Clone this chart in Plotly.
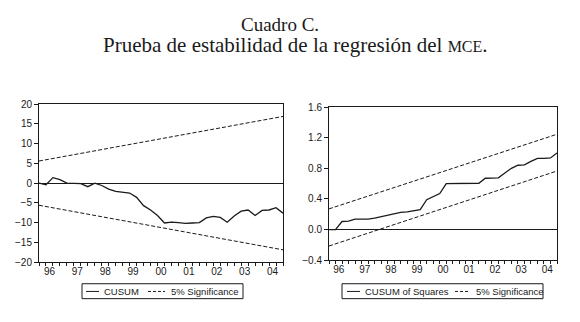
import plotly.graph_objects as go

W, H = 580, 322

# ---------------- data ----------------
quarters = [f"{y}Q{q}" for y in range(1996, 2005) for q in range(1, 5)]  # 36 quarterly obs
year_labels = ["96", "97", "98", "99", "00", "01", "02", "03", "04"]

cusum = [0.0, -0.4, 1.4, 0.9, 0.0, -0.1, -0.1, -0.9, 0.0, -0.6,
         -1.5, -2.1, -2.3, -2.5, -3.6, -5.7, -6.8, -8.2, -10.1, -9.9,
         -10.0, -10.2, -10.1, -10.0, -8.8, -8.4, -8.7, -9.9, -8.3, -7.1,
         -6.8, -8.2, -6.9, -6.8, -6.2, -7.6]
cusum_upper = [5.6, 16.9]
cusum_lower = [-5.6, -16.9]

cusumsq = [0.0, 0.0, 0.105, 0.11, 0.135, 0.135, 0.135, 0.15, 0.17, 0.185,
           0.21, 0.225, 0.23, 0.245, 0.26, 0.39, 0.43, 0.47, 0.60, 0.60,
           0.60, 0.60, 0.60, 0.605, 0.67, 0.67, 0.675, 0.74, 0.80, 0.84,
           0.845, 0.89, 0.93, 0.93, 0.935, 1.0]
sq_upper = [0.27, 1.245]
sq_lower = [-0.215, 0.765]

x = list(range(len(quarters)))
ends = [x[0], x[-1]]
label_pos = [1.5 + 4 * k for k in range(len(year_labels))]

INK = "#1a1a1a"
SANS = "Liberation Sans, Arial, sans-serif"
SERIF = "Liberation Serif, Times New Roman, serif"

fig = go.Figure()
# left panel
fig.add_trace(go.Scatter(x=x, y=cusum, mode="lines", name="CUSUM",
                         line=dict(color=INK, width=1.3), xaxis="x", yaxis="y"))
fig.add_trace(go.Scatter(x=ends, y=cusum_upper, mode="lines", name="5% Significance",
                         line=dict(color=INK, width=1, dash="4px,2px"), xaxis="x", yaxis="y"))
fig.add_trace(go.Scatter(x=ends, y=cusum_lower, mode="lines", name="5% Significance",
                         line=dict(color=INK, width=1, dash="4px,2px"), xaxis="x", yaxis="y"))
# right panel
fig.add_trace(go.Scatter(x=x, y=cusumsq, mode="lines", name="CUSUM of Squares",
                         line=dict(color=INK, width=1.3), xaxis="x2", yaxis="y2"))
fig.add_trace(go.Scatter(x=ends, y=sq_upper, mode="lines", name="5% Significance",
                         line=dict(color=INK, width=1, dash="4px,2px"), xaxis="x2", yaxis="y2"))
fig.add_trace(go.Scatter(x=ends, y=sq_lower, mode="lines", name="5% Significance",
                         line=dict(color=INK, width=1, dash="4px,2px"), xaxis="x2", yaxis="y2"))


def px_x(p):
    return p / W


def px_y(p):
    return (H - p) / H


common_x = dict(range=[x[0], x[-1]], tickmode="array", tickvals=label_pos, ticktext=year_labels,
                ticks="", showline=True, mirror=True, linecolor=INK, linewidth=1,
                showgrid=False, zeroline=False,
                tickfont=dict(family=SANS, size=10, color=INK),
                minor=dict(tickmode="array", tickvals=x, ticks="outside", ticklen=3,
                           tickcolor=INK, tickwidth=1, showgrid=False))
common_y = dict(ticks="outside", ticklen=4, tickcolor=INK, showline=True, mirror=True,
                linecolor=INK, linewidth=1, showgrid=False, zeroline=True,
                zerolinecolor=INK, zerolinewidth=1,
                tickfont=dict(family=SANS, size=10, color=INK))

fig.update_layout(
    width=W, height=H, margin=dict(l=0, r=0, t=0, b=0),
    paper_bgcolor="white", plot_bgcolor="white", showlegend=False,
    xaxis=dict(domain=[px_x(39), px_x(283)], anchor="y", **common_x),
    yaxis=dict(domain=[px_y(266), px_y(102)], anchor="x", range=[-20, 20],
               tickmode="linear", tick0=0, dtick=5, **common_y),
    xaxis2=dict(domain=[px_x(329), px_x(557)], anchor="y2", **common_x),
    yaxis2=dict(domain=[px_y(264), px_y(105)], anchor="x2", range=[-0.4, 1.6],
                tickmode="linear", tick0=0, dtick=0.4, tickformat=".1f", **common_y),
)

# titles
fig.add_annotation(x=px_x(280), y=px_y(19), xref="paper", yref="paper", showarrow=False,
                   text="Cuadro C.", xanchor="center", yanchor="middle",
                   font=dict(family=SERIF, size=19, color=INK))
fig.add_annotation(x=px_x(295), y=px_y(41), xref="paper", yref="paper", showarrow=False,
                   text="Prueba de estabilidad de la regresión del <span style='font-size:16px'>MCE</span>.",
                   xanchor="center", yanchor="middle",
                   font=dict(family=SERIF, size=21, color=INK))

# legends drawn as boxes
def legend(box, solid, solid_label, dash, dash_label):
    bx0, bx1 = box
    fig.add_shape(type="rect", xref="paper", yref="paper", x0=px_x(bx0), x1=px_x(bx1),
                  y0=px_y(304), y1=px_y(288.5), line=dict(color=INK, width=1),
                  fillcolor="white")
    fig.add_shape(type="line", xref="paper", yref="paper", x0=px_x(solid[0]), x1=px_x(solid[1]),
                  y0=px_y(296.5), y1=px_y(296.5), line=dict(color=INK, width=1))
    fig.add_shape(type="line", xref="paper", yref="paper", x0=px_x(dash[0]), x1=px_x(dash[1]),
                  y0=px_y(296.5), y1=px_y(296.5), line=dict(color=INK, width=1, dash="3px,2px"))
    fig.add_annotation(x=px_x(solid[1] + 3), y=px_y(296.5), xref="paper", yref="paper",
                       showarrow=False, text=solid_label, xanchor="left", yanchor="middle",
                       font=dict(family=SANS, size=9.5, color=INK))
    fig.add_annotation(x=px_x(dash[1] + 4), y=px_y(296.5), xref="paper", yref="paper",
                       showarrow=False, text=dash_label, xanchor="left", yanchor="middle",
                       font=dict(family=SANS, size=9.5, color=INK))


legend((82, 243), (86, 99), "CUSUM", (148, 165), "5% Significance")
legend((342, 543), (347, 360), "CUSUM of Squares", (455, 470), "5% Significance")

fig.write_html("out.html")
